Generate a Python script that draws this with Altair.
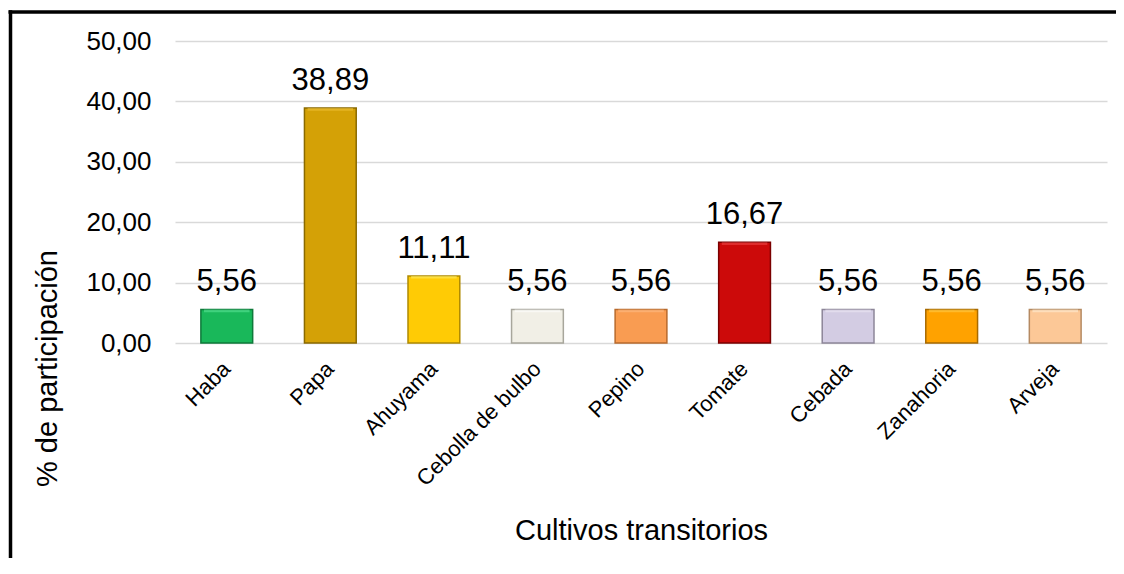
import altair as alt
import pandas as pd

categories = ["Haba", "Papa", "Ahuyama", "Cebolla de bulbo", "Pepino",
              "Tomate", "Cebada", "Zanahoria", "Arveja"]
values = [5.56, 38.89, 11.11, 5.56, 5.56, 16.67, 5.56, 5.56, 5.56]
fill_colors = ["#19b85a", "#d4a106", "#ffcb05", "#f1efe6", "#f99c52",
               "#cc0a0a", "#d3cce3", "#ffa200", "#fcc897"]
edge_colors = ["#0e7a3a", "#8a6a00", "#b08a00", "#a8a69c", "#b86a2c",
               "#7a0000", "#8d8699", "#a86a00", "#b58a62"]
light_colors = ["#5fe79a", "#f0c53c", "#fff06a", "#ffffff", "#ffc08a",
                "#ef4a4a", "#eeeaf6", "#ffd050", "#fff0d8"]
y_ticks = [0, 10, 20, 30, 40, 50]

FONT = "Liberation Sans"

df = pd.DataFrame({"cultivo": categories, "valor": values})

x_enc = alt.X("cultivo:N", sort=categories,
              scale=alt.Scale(paddingInner=0, paddingOuter=0),
              axis=alt.Axis(title="Cultivos transitorios", labelAngle=-45,
                            labelAlign="right", labelBaseline="middle",
                            labelPadding=22, labelFontSize=22, labelColor="#000000",
                            labelFont=FONT, domain=False, ticks=False, grid=False,
                            titleFont=FONT, titleFontSize=29, titleFontWeight="normal",
                            titleColor="#000000", titleY=196, titleBaseline="alphabetic"))
y_enc = alt.Y("valor:Q", scale=alt.Scale(domain=[0, 50], nice=False),
              axis=alt.Axis(title="% de participación", values=y_ticks,
                            labelExpr="replace(format(datum.value, '.2f'), '.', ',')",
                            labelFontSize=26, labelFont=FONT, labelColor="#000000",
                            labelPadding=24, domain=False, ticks=False, grid=True,
                            gridColor="#d9d9d9", gridWidth=1.5,
                            titleFont=FONT, titleFontSize=29, titleFontWeight="normal",
                            titleColor="#000000", titleX=-128, titleY=327,
                            titleAlign="center", titleBaseline="middle"))

frame = pd.DataFrame({"a": [0]})
border_top = alt.Chart(frame).mark_rule(color="#000000", strokeWidth=3.5).encode(
    x=alt.value(-166.5), x2=alt.value(941), y=alt.value(-29))
border_left = alt.Chart(frame).mark_rule(color="#000000", strokeWidth=3.5).encode(
    x=alt.value(-164.5), y=alt.value(-30.7), y2=alt.value(522))

bars = alt.Chart(df).mark_bar(width=alt.RelativeBandSize(0.5), strokeWidth=1.5).encode(
    x=x_enc,
    y=y_enc,
    color=alt.Color("cultivo:N", scale=alt.Scale(domain=categories, range=fill_colors), legend=None),
    stroke=alt.Stroke("cultivo:N", scale=alt.Scale(domain=categories, range=edge_colors), legend=None),
)

# bevel highlight near the top of each bar
highlight = alt.Chart(df).transform_calculate(
    top2="datum.valor - 0.45"
).mark_bar(width=alt.RelativeBandSize(0.44), opacity=0.55).encode(
    x=alt.X("cultivo:N", sort=categories),
    y=alt.Y("valor:Q"),
    y2="top2:Q",
    color=alt.Color("cultivo:N", scale=alt.Scale(domain=categories, range=light_colors), legend=None),
)

labels = alt.Chart(df).transform_calculate(
    etiqueta="replace(format(datum.valor, '.2f'), '.', ',')"
).mark_text(font=FONT, fontSize=31, color="#000000", baseline="alphabetic", dy=-18).encode(
    x=alt.X("cultivo:N", sort=categories),
    y=alt.Y("valor:Q"),
    text="etiqueta:N",
)

chart = alt.layer(border_top, border_left, bars, highlight, labels).resolve_scale(
    color="independent"
).properties(
    width=932, height=302,
    autosize=alt.AutoSizeParams(type="none"),
    padding={"left": 167, "top": 33, "right": 9, "bottom": 215},
).configure_view(strokeOpacity=0)

chart.save("out.html", embed_options={"renderer": "svg", "actions": False})
